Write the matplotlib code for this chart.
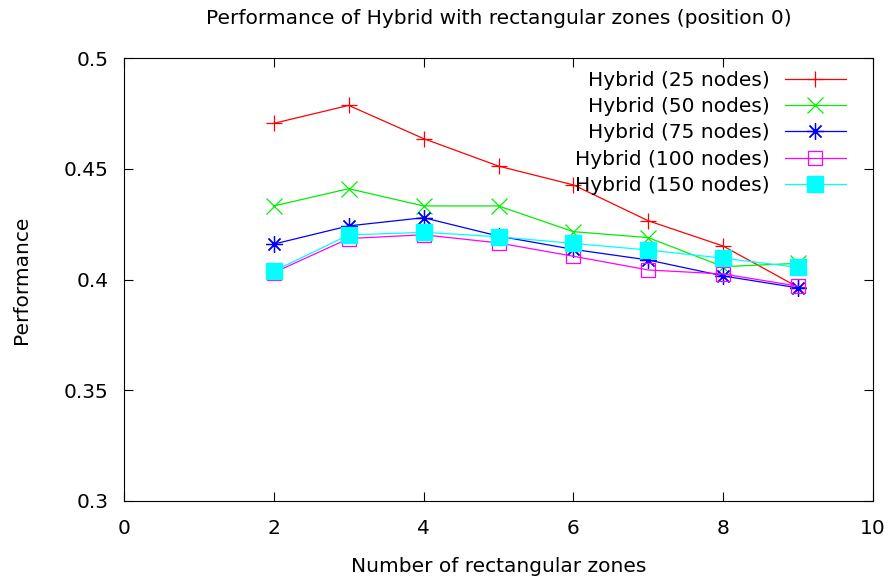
import matplotlib.pyplot as plt

zones = [2, 3, 4, 5, 6, 7, 8, 9]
hyb25 = [0.4705, 0.4786, 0.4636, 0.4512, 0.4427, 0.4265, 0.4151, 0.3965]
hyb50 = [0.4332, 0.4410, 0.4332, 0.4332, 0.4216, 0.4189, 0.4058, 0.4073]
hyb75 = [0.4160, 0.4242, 0.4279, 0.4196, 0.4136, 0.4088, 0.4016, 0.3962]
hyb100 = [0.4031, 0.4185, 0.4202, 0.4165, 0.4105, 0.4043, 0.4025, 0.3970]
hyb150 = [0.4038, 0.4201, 0.4213, 0.4193, 0.4163, 0.4133, 0.4096, 0.4055]
labels = ['Hybrid (25 nodes)', 'Hybrid (50 nodes)', 'Hybrid (75 nodes)',
          'Hybrid (100 nodes)', 'Hybrid (150 nodes)']

fs = 14.5
fig = plt.figure(figsize=(8.9, 5.83), dpi=100)
ax = fig.add_axes([124/890, 1-501/583, (873-124)/890, (501-58)/583])

lw = 0.9
ax.plot(zones, hyb25, color='#ff0000', marker='+', ms=12, mew=lw, lw=lw, label=labels[0])
ax.plot(zones, hyb50, color='#00ee00', marker='x', ms=11, mew=lw, lw=lw, label=labels[1])
ax.plot(zones, hyb75, color='#0000ff', marker=(8, 2, 0), ms=12, mew=lw, lw=lw, label=labels[2])
ax.plot(zones, hyb100, color='#ff00ff', marker='s', ms=10, mfc='none', mew=lw, lw=lw, label=labels[3])
ax.plot(zones, hyb150, color='#00ffff', marker='s', ms=11, mec='#00ffff', lw=lw, label=labels[4])

ax.set_xlim(0, 10)
ax.set_ylim(0.3, 0.5)
ax.set_xticks([0, 2, 4, 6, 8, 10])
ax.set_yticks([0.3, 0.35, 0.4, 0.45, 0.5])
ax.set_yticklabels(['0.3', '0.35', '0.4', '0.45', '0.5'])
ax.tick_params(direction='in', top=True, right=True, length=6.5, labelsize=fs)
ax.tick_params(axis='x', pad=13)
ax.tick_params(axis='y', pad=11)
for s in ax.spines.values():
    s.set_linewidth(0.8)

ax.set_xlabel('Number of rectangular zones', fontsize=fs)
ax.xaxis.set_label_coords(0.5, (501-566)/443)
ax.set_ylabel('Performance', fontsize=fs)
ax.yaxis.set_label_coords((22-124)/749, 0.5)
ax.xaxis.label.set_va('center')
ax.yaxis.label.set_va('center')
fig.text(498.5/890, 1-18/583, 'Performance of Hybrid with rectangular zones (position 0)',
         fontsize=fs, ha='center', va='center')

ax.legend(loc='upper right', bbox_to_anchor=((846-124)/749, (501-71)/443),
          frameon=False, markerfirst=False, fontsize=fs, borderpad=0,
          borderaxespad=0, handlelength=3.05, labelspacing=0.36, handletextpad=0.75)
for t in ax.get_legend().get_texts():
    t.set_ha('right')
    t.set_position((0, 0))

fig.savefig('out.png', dpi=100)
